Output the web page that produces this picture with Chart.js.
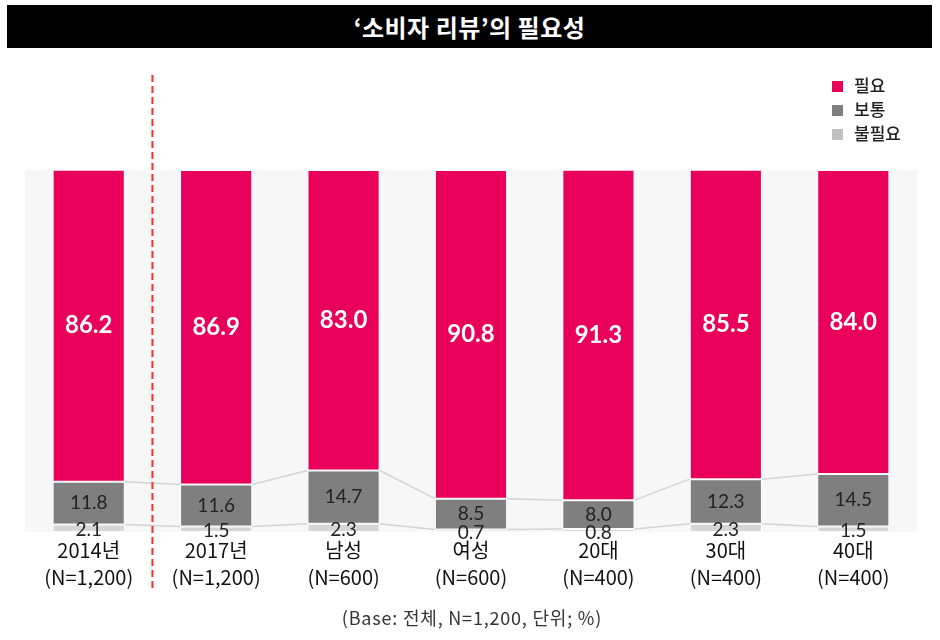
<!DOCTYPE html>
<html>
<head>
<meta charset="utf-8">
<script src="https://cdn.jsdelivr.net/npm/chart.js@4.4.1/dist/chart.umd.min.js"></script>
<style>
  body { margin: 0; background: #fff; font-family: "Noto Sans CJK KR", sans-serif; }
  #wrap { position: relative; width: 940px; height: 640px; }
  #title {
    position: absolute; left: 7px; top: 5px; width: 925px; height: 43px;
    background: #000; color: #fff; font-weight: 700; font-size: 24px;
    line-height: 43px; text-align: center; letter-spacing: 0.5px;
  }
  #legend { position: absolute; left: 832px; top: 73px; font-size: 17px; font-weight: 500; color: #222; }
  #legend div { height: 24px; line-height: 24px; white-space: nowrap; }
  #legend span { display: inline-block; width: 11px; height: 11px; margin-right: 11px; vertical-align: 0px; }
  #note { position: absolute; left: 0; width: 944px; top: 604px; text-align: center; font-size: 18px; color: #333; letter-spacing: 0.8px; }
  canvas { position: absolute; left: 0; top: 0; }
</style>
</head>
<body>
<div id="wrap">
  <canvas id="chart" width="940" height="640"></canvas>
  <div id="title">‘소비자 리뷰’의 필요성</div>
  <div id="legend"></div>
  <div id="note">(Base: 전체, N=1,200, 단위; %)</div>
</div>
<script>
const categories = [
  ['2014년', '(N=1,200)'],
  ['2017년', '(N=1,200)'],
  ['남성', '(N=600)'],
  ['여성', '(N=600)'],
  ['20대', '(N=400)'],
  ['30대', '(N=400)'],
  ['40대', '(N=400)']
]
const seriesNames = ['불필요', '보통', '필요']
const notNeeded = [2.1, 1.5, 2.3, 0.7, 0.8, 2.3, 1.5]
const neutral = [11.8, 11.6, 14.7, 8.5, 8.0, 12.3, 14.5]
const needed = [86.2, 86.9, 83.0, 90.8, 91.3, 85.5, 84.0]
const colors = ['#d6d6d6', '#7f7f7f', '#e8005b']

const PANEL = '#f7f7f7'
const CONNECTOR = '#d4d4d4'

const extras = {
  id: 'extras',
  beforeDraw(chart) {
    const { ctx, chartArea: a } = chart
    ctx.save()
    ctx.fillStyle = PANEL
    ctx.fillRect(a.left, a.top, a.right - a.left, a.bottom - a.top)
    ctx.restore()
  },
  beforeDatasetsDraw(chart) {
    const ctx = chart.ctx
    ctx.save()
    ctx.strokeStyle = CONNECTOR
    ctx.lineWidth = 1.5
    for (const i of [0, 1]) {
      const bars = chart.getDatasetMeta(i).data
      for (let j = 0; j < bars.length - 1; j++) {
        const a = bars[j]
        const b = bars[j + 1]
        ctx.beginPath()
        ctx.moveTo(a.x + a.width / 2, a.y)
        ctx.lineTo(b.x - b.width / 2, b.y)
        ctx.stroke()
      }
    }
    ctx.restore()
  },
  afterDatasetsDraw(chart) {
    const ctx = chart.ctx
    ctx.save()
    ctx.textAlign = 'center'
    ctx.textBaseline = 'middle'
    chart.data.datasets.forEach((ds, i) => {
      const bars = chart.getDatasetMeta(i).data
      bars.forEach((bar, j) => {
        const text = ds.data[j].toFixed(1)
        const mid = (bar.y + bar.base) / 2
        if (i === 2) {
          ctx.fillStyle = '#fff'
          ctx.font = '700 24px Lato'
          ctx.fillText(text, bar.x, mid)
        } else if (i === 1) {
          ctx.fillStyle = '#222'
          ctx.font = '400 19px Lato'
          ctx.fillText(text, bar.x, mid)
        } else {
          ctx.fillStyle = '#222'
          ctx.font = '400 19px Lato'
          ctx.fillText(text, bar.x, mid + 2)
        }
      })
    })

    // dashed divider between 2014 and the rest
    const x = chart.scales.x
    const dx = (x.getPixelForValue(0) + x.getPixelForValue(1)) / 2
    ctx.strokeStyle = '#ff2a2a'
    ctx.lineWidth = 2
    ctx.setLineDash([7, 4])
    ctx.beginPath()
    ctx.moveTo(dx, 75)
    ctx.lineTo(dx, 592)
    ctx.stroke()
    ctx.restore()
  }
}

const datasets = [notNeeded, neutral, needed].map((data, i) => ({
  label: seriesNames[i],
  data,
  backgroundColor: colors[i],
  borderColor: 'rgba(255,255,255,0.55)',
  borderWidth: 1,
  borderSkipped: false
}))

new Chart(document.getElementById('chart'), {
  type: 'bar',
  data: { labels: categories, datasets },
  options: {
    responsive: false,
    animation: false,
    events: [],
    layout: { padding: { top: 170, left: 25, right: 23, bottom: 0 } },
    datasets: { bar: { categoryPercentage: 1, barPercentage: 0.566 } },
    scales: {
      x: {
        stacked: true,
        grid: { display: false, drawTicks: false },
        border: { display: false },
        ticks: {
          padding: 5,
          color: '#111',
          font: { family: '"Noto Sans CJK KR"', size: 20, lineHeight: 1.35 }
        },
        afterFit(scale) { scale.height = 108 }
      },
      y: { stacked: true, display: false, min: 0, max: 100 }
    },
    plugins: {
      legend: { display: false },
      tooltip: { enabled: false }
    }
  },
  plugins: [extras]
})

// legend, top-down order 필요 / 보통 / 불필요
const legend = document.getElementById('legend')
for (let i = seriesNames.length - 1; i >= 0; i--) {
  const row = document.createElement('div')
  const sw = document.createElement('span')
  sw.style.background = i === 0 ? '#c0c0c0' : colors[i]
  row.appendChild(sw)
  row.appendChild(document.createTextNode(seriesNames[i]))
  legend.appendChild(row)
}
</script>
</body>
</html>
